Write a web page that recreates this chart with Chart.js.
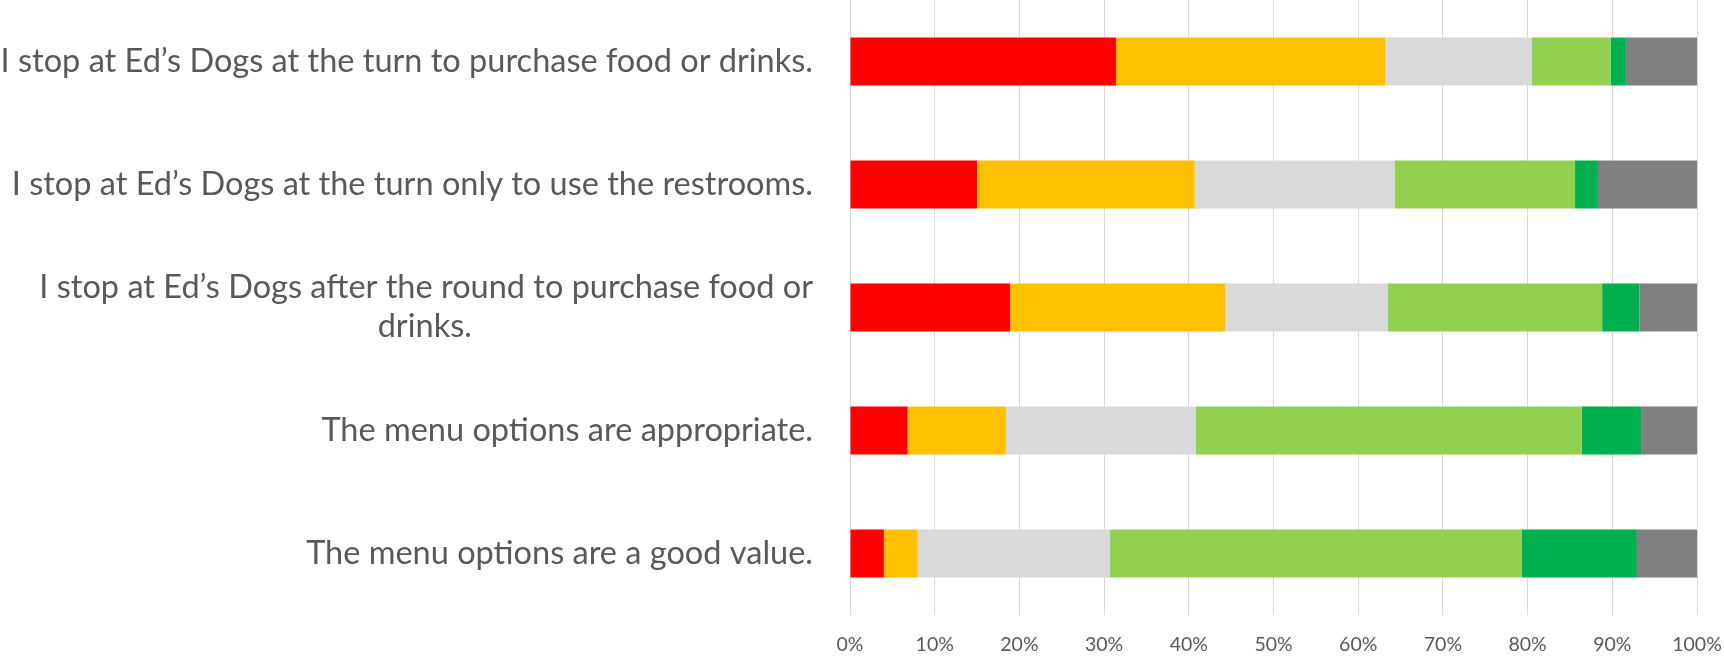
<!DOCTYPE html>
<html>
<head>
<meta charset="utf-8">
<script src="https://cdn.jsdelivr.net/npm/chart.js@4/dist/chart.umd.min.js"></script>
<style>
  html, body { margin: 0; padding: 0; background: #fff; }
  #wrap { width: 1724px; height: 659px; position: relative; }
</style>
</head>
<body>
<div id="wrap"><canvas id="chart"></canvas></div>
<script>
/* ===== DATA ===== */
const categories = [
  'I stop at Ed\u2019s Dogs at the turn to purchase food or drinks.',
  'I stop at Ed\u2019s Dogs at the turn only to use the restrooms.',
  ['I stop at Ed\u2019s Dogs after the round to purchase food or', 'drinks.'],
  'The menu options are appropriate.',
  'The menu options are a good value.'
];
const ticks = [0, 10, 20, 30, 40, 50, 60, 70, 80, 90, 100];

const stronglyDisagree = [31.4, 15.0, 18.9, 6.8, 4.0];
const disagree         = [31.8, 25.7, 25.4, 11.6, 4.0];
const neutral          = [17.3, 23.6, 19.2, 22.4, 22.7];
const agree            = [9.3, 21.3, 25.3, 45.6, 48.6];
const stronglyAgree    = [1.8, 2.7, 4.4, 7.0, 13.6];
const notApplicable    = [8.4, 11.7, 6.8, 6.6, 7.1];

const seriesNames = ['Strongly Disagree', 'Disagree', 'Neutral', 'Agree', 'Strongly Agree', 'N/A'];
const seriesValues = [stronglyDisagree, disagree, neutral, agree, stronglyAgree, notApplicable];
const seriesColors = ['#ff0000', '#ffc000', '#d9d9d9', '#92d050', '#00b050', '#808080'];

const FONT = 'Lato, "Open Sans", sans-serif';
const LABEL_SIZE = 32.5;

// wrapped labels: centre the short lines under the longest one (like Excel does)
const measure = document.createElement('canvas').getContext('2d');
measure.font = LABEL_SIZE + 'px ' + FONT;
const padW = measure.measureText('\u00a0').width;
const axisLabels = categories.map(c => {
  if (!Array.isArray(c)) return c;
  const widest = Math.max(...c.map(l => measure.measureText(l).width));
  return c.map(l => {
    const n = Math.round((widest - measure.measureText(l).width) / 2 / padW);
    return l + '\u00a0'.repeat(n);
  });
});

const ctx = document.getElementById('chart');
new Chart(ctx, {
  type: 'bar',
  data: {
    labels: axisLabels,
    datasets: seriesNames.map((name, i) => ({
      label: name,
      data: seriesValues[i],
      backgroundColor: seriesColors[i],
      borderWidth: 0,
      barPercentage: 0.65,
      categoryPercentage: 0.6
    }))
  },
  options: {
    indexAxis: 'y',
    responsive: true,
    maintainAspectRatio: false,
    animation: false,
    layout: { padding: { top: 0, right: 27, bottom: 0, left: 0 } },
    plugins: {
      legend: { display: false },
      tooltip: { enabled: false }
    },
    scales: {
      x: {
        stacked: true,
        min: 0,
        max: 100,
        afterBuildTicks: (scale) => { scale.ticks = ticks.map(v => ({ value: v })); },
        afterFit: (scale) => {
          scale.height = 44;
          scale.paddingLeft = 0;
          scale.paddingRight = 0;
        },
        grid: { color: '#d9d9d9', lineWidth: 1, drawTicks: false },
        border: { display: false },
        ticks: {
          color: '#595959',
          padding: 18,
          maxRotation: 0,
          font: { family: FONT, size: 19.5 },
          callback: (v) => v + '%'
        }
      },
      y: {
        stacked: true,
        afterFit: (scale) => {
          scale.width = 850;
          scale.paddingTop = 0;
          scale.paddingBottom = 0;
        },
        grid: { display: false },
        border: { display: false },
        ticks: {
          color: '#595959',
          padding: 29,
          font: { family: FONT, size: LABEL_SIZE },
          lineHeight: 1.4
        }
      }
    }
  }
});
</script>
</body>
</html>
